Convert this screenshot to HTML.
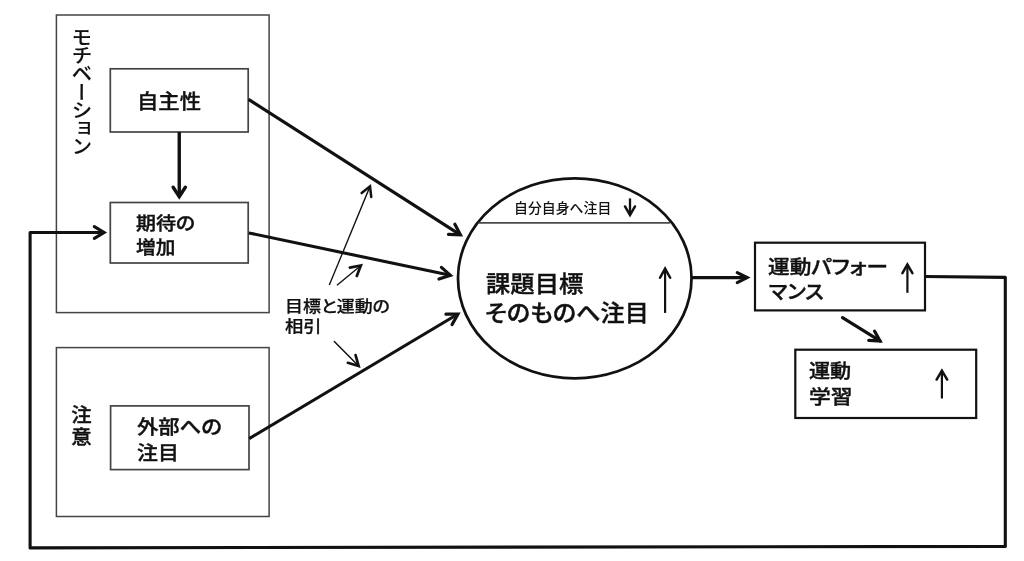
<!DOCTYPE html>
<html lang="ja">
<head>
<meta charset="utf-8">
<title>モチベーションと注意</title>
<style>
html,body{margin:0;padding:0;background:#fff;}
body{width:1024px;height:561px;position:relative;overflow:hidden;font-family:"Liberation Sans", "Noto Sans CJK JP", sans-serif;color:#111;}
svg{position:absolute;left:0;top:0;}
#labels{position:absolute;left:0;top:0;width:1024px;height:561px;will-change:transform;}
.t{position:absolute;white-space:nowrap;margin:0;padding:0;line-height:1;transform-origin:0 0;-webkit-text-stroke:0.4px #111;}
</style>
</head>
<body>
<svg width="1024" height="561" viewBox="0 0 1024 561">
<rect x="56.4" y="15.0" width="212.70" height="297.60" fill="none" stroke="#444" stroke-width="1.5"/>
<rect x="56.4" y="347.6" width="212.70" height="168.90" fill="none" stroke="#444" stroke-width="1.5"/>
<rect x="110.3" y="68.8" width="137.90" height="63.20" fill="none" stroke="#444" stroke-width="1.7"/>
<rect x="110.3" y="202.5" width="137.90" height="60.50" fill="none" stroke="#444" stroke-width="1.7"/>
<rect x="110.6" y="405.9" width="138.40" height="63.70" fill="none" stroke="#444" stroke-width="1.7"/>
<rect x="755" y="242.7" width="170.00" height="67.70" fill="none" stroke="#111" stroke-width="2.2"/>
<rect x="795.3" y="349.7" width="180.90" height="68.30" fill="none" stroke="#111" stroke-width="2.2"/>
<ellipse cx="574.75" cy="278.25" rx="116.75" ry="100" fill="none" stroke="#111" stroke-width="2.75"/>
<line x1="478.5" y1="222.8" x2="670" y2="222.8" stroke="#4a4a4a" stroke-width="1.7"/>
<polyline points="925,276.5 1005.3,277.4 1005.3,546.4 30.1,547.9 30.1,232.5 100,232.5" fill="none" stroke="#111" stroke-width="3.1" stroke-linejoin="round"/>
<line x1="95" y1="232.5" x2="104.09" y2="232.50" stroke="#111" stroke-width="3.1" stroke-linecap="butt"/>
<polyline points="94.32,226.63 104.09,232.50 94.32,238.37" fill="none" stroke="#111" stroke-width="3.1" stroke-linejoin="miter" stroke-miterlimit="10" stroke-linecap="round"/>
<line x1="179.25" y1="132" x2="179.25" y2="196.63" stroke="#111" stroke-width="3.4" stroke-linecap="butt"/>
<polyline points="185.35,187.24 179.25,196.63 173.15,187.24" fill="none" stroke="#111" stroke-width="3.4" stroke-linejoin="miter" stroke-miterlimit="10" stroke-linecap="round"/>
<line x1="248.5" y1="99.3" x2="460.40" y2="234.88" stroke="#111" stroke-width="3.2" stroke-linecap="butt"/>
<polyline points="454.88,224.22 460.40,234.88 448.42,234.33" fill="none" stroke="#111" stroke-width="3.2" stroke-linejoin="miter" stroke-miterlimit="10" stroke-linecap="round"/>
<line x1="248.8" y1="232.9" x2="450.37" y2="275.34" stroke="#111" stroke-width="3.1" stroke-linecap="butt"/>
<polyline points="441.44,267.33 450.37,275.34 438.96,279.07" fill="none" stroke="#111" stroke-width="3.2" stroke-linejoin="miter" stroke-miterlimit="10" stroke-linecap="round"/>
<line x1="249.2" y1="438.6" x2="457.95" y2="314.04" stroke="#111" stroke-width="3.1" stroke-linecap="butt"/>
<polyline points="445.95,314.21 457.95,314.04 452.10,324.52" fill="none" stroke="#111" stroke-width="3.2" stroke-linejoin="miter" stroke-miterlimit="10" stroke-linecap="round"/>
<line x1="691" y1="277.6" x2="747.08" y2="277.60" stroke="#111" stroke-width="3.2" stroke-linecap="butt"/>
<polyline points="737.27,272.61 747.08,277.60 737.27,282.59" fill="none" stroke="#111" stroke-width="3.2" stroke-linejoin="miter" stroke-miterlimit="10" stroke-linecap="round"/>
<line x1="842.5" y1="317.6" x2="880.00" y2="340.96" stroke="#111" stroke-width="3.2" stroke-linecap="round"/>
<polyline points="874.51,331.08 880.00,340.96 868.71,340.38" fill="none" stroke="#111" stroke-width="3.2" stroke-linejoin="miter" stroke-miterlimit="10" stroke-linecap="round"/>
<line x1="329.3" y1="285.1" x2="370.02" y2="186.38" stroke="#111" stroke-width="1.35" stroke-linecap="butt"/>
<polyline points="361.65,193.06 370.02,186.38 371.24,197.01" fill="none" stroke="#111" stroke-width="2.5" stroke-linejoin="miter" stroke-miterlimit="10" stroke-linecap="round"/>
<line x1="337" y1="285.3" x2="360.86" y2="265.48" stroke="#111" stroke-width="1.4" stroke-linecap="butt"/>
<polyline points="349.85,267.56 360.86,265.48 356.79,275.92" fill="none" stroke="#111" stroke-width="2.7" stroke-linejoin="miter" stroke-miterlimit="10" stroke-linecap="round"/>
<line x1="334.3" y1="341.5" x2="358.63" y2="365.93" stroke="#111" stroke-width="1.5" stroke-linecap="round"/>
<polyline points="355.57,355.16 358.63,365.93 347.87,362.82" fill="none" stroke="#111" stroke-width="2.7" stroke-linejoin="miter" stroke-miterlimit="10" stroke-linecap="round"/>
<line x1="630" y1="198.4" x2="630.00" y2="215.10" stroke="#111" stroke-width="2.3" stroke-linecap="butt"/>
<polyline points="635.00,206.44 630.00,215.10 625.00,206.44" fill="none" stroke="#111" stroke-width="2.5" stroke-linejoin="miter" stroke-miterlimit="10" stroke-linecap="round"/>
<line x1="665.1" y1="312.9" x2="665.10" y2="268.58" stroke="#111" stroke-width="2.2" stroke-linecap="butt"/>
<polyline points="660.01,277.76 665.10,268.58 670.19,277.76" fill="none" stroke="#111" stroke-width="2.5" stroke-linejoin="miter" stroke-miterlimit="10" stroke-linecap="round"/>
<line x1="907.4" y1="292.8" x2="907.40" y2="264.50" stroke="#111" stroke-width="2.2" stroke-linecap="butt"/>
<polyline points="902.40,273.16 907.40,264.50 912.40,273.16" fill="none" stroke="#111" stroke-width="2.5" stroke-linejoin="miter" stroke-miterlimit="10" stroke-linecap="round"/>
<line x1="941.9" y1="398.5" x2="941.90" y2="370.73" stroke="#111" stroke-width="2.2" stroke-linecap="butt"/>
<polyline points="936.60,379.56 941.90,370.73 947.20,379.56" fill="none" stroke="#111" stroke-width="2.5" stroke-linejoin="miter" stroke-miterlimit="10" stroke-linecap="round"/>
</svg>
<div id="labels">
<div class="t" style="left:69.83px;top:26.97px;font-size:20.0px;font-weight:500;letter-spacing:-1.7px;transform:scale(1.039,1);-webkit-text-stroke-width:0.1px;writing-mode:vertical-rl;">モチベーション</div>
<div class="t" style="left:69.35px;top:405.43px;font-size:19.5px;font-weight:500;letter-spacing:1.9px;transform:scale(1.046,1);writing-mode:vertical-rl;">注意</div>
<div class="t" style="left:136.57px;top:92.25px;font-size:20.5px;font-weight:500;transform:scale(1.04,1);">自主性</div>
<div class="t" style="left:136.07px;top:215.2px;font-size:18.25px;font-weight:500;transform:scale(1.094,1);font-feature-settings:'palt';">期待の</div>
<div class="t" style="left:136.32px;top:238.93px;font-size:18.25px;font-weight:500;transform:scale(1.077,1);">増加</div>
<div class="t" style="left:136.6px;top:418.17px;font-size:19.75px;font-weight:500;transform:scale(1.081,1);font-feature-settings:'palt';">外部への</div>
<div class="t" style="left:136.57px;top:444.45px;font-size:19.75px;font-weight:500;transform:scale(1.059,1);">注目</div>
<div class="t" style="left:284.93px;top:299.25px;font-size:16px;font-weight:500;transform:scale(1.122,1);-webkit-text-stroke-width:0.25px;font-feature-settings:'palt';">目標と運動の</div>
<div class="t" style="left:285.45px;top:319.25px;font-size:16px;font-weight:500;transform:scale(1.146,1);-webkit-text-stroke-width:0.25px;">相引</div>
<div class="t" style="left:513.75px;top:201.93px;font-size:13.5px;font-weight:500;transform:scale(1.028,1);-webkit-text-stroke-width:0.0px;font-feature-settings:'palt';">自分自身へ注目</div>
<div class="t" style="left:485.73px;top:273.18px;font-size:23px;font-weight:500;transform:scale(1.058,1);">課題目標</div>
<div class="t" style="left:485.12px;top:302.35px;font-size:23px;font-weight:500;transform:scale(1.049,1);font-feature-settings:'palt';">そのものへ注目</div>
<div class="t" style="left:768.33px;top:258.3px;font-size:19.5px;font-weight:500;transform:scale(1.11,1);font-feature-settings:'palt';">運動パフォー</div>
<div class="t" style="left:768.95px;top:282.65px;font-size:19.5px;font-weight:500;transform:scale(1.057,1);font-feature-settings:'palt';">マンス</div>
<div class="t" style="left:809.42px;top:362.43px;font-size:19.5px;font-weight:500;transform:scale(1.083,1);">運動</div>
<div class="t" style="left:808.92px;top:388.45px;font-size:19.5px;font-weight:500;transform:scale(1.113,1);">学習</div>
</div>
</body>
</html>
